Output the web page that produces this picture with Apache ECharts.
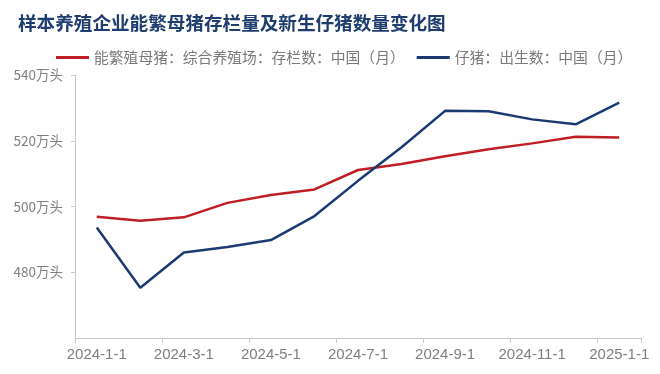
<!DOCTYPE html>
<html>
<head>
<meta charset="utf-8">
<script src="https://cdn.jsdelivr.net/npm/echarts@6/dist/echarts.min.js"></script>
<style>html,body{margin:0;padding:0;background:#fff;}#c{width:660px;height:374px;}</style>
</head>
<body>
<div id="c"></div>
<script>
const categories = ['2024-1-1','2024-2-1','2024-3-1','2024-4-1','2024-5-1','2024-6-1','2024-7-1','2024-8-1','2024-9-1','2024-10-1','2024-11-1','2024-12-1','2025-1-1'];
const sowName = '能繁殖母猪：综合养殖场：存栏数：中国（月）';
const pigletName = '仔猪：出生数：中国（月）';
const sowValues = [496.9, 495.7, 496.7, 501.1, 503.5, 505.2, 511.1, 512.9, 515.3, 517.4, 519.2, 521.2, 521.0];
const pigletValues = [493.6, 475.3, 486.0, 487.7, 489.8, 497.1, 507.8, 518.0, 529.1, 529.0, 526.5, 525.0, 531.6];
const yTicks = [460, 480, 500, 520, 540];

const chart = echarts.init(document.getElementById('c'), null, {renderer: 'canvas'});
chart.setOption({
  backgroundColor: '#ffffff',
  animation: false,
  title: {
    text: '样本养殖企业能繁母猪存栏量及新生仔猪数量变化图',
    left: 13, top: 9,
    textStyle: {fontFamily: 'Noto Sans CJK SC', fontSize: 18.6, fontWeight: 'bold', color: '#1F3D6E'}
  },
  legend: {
    left: 51, top: 45,
    itemWidth: 33, itemHeight: 3, itemGap: 12,
    icon: 'rect',
    textStyle: {fontFamily: 'Noto Sans CJK SC', fontSize: 14.8, color: '#7a7a7a'},
    data: [sowName, pigletName]
  },
  grid: {left: 75, right: 19, top: 75, bottom: 36, containLabel: false},
  xAxis: {
    type: 'category',
    data: categories,
    boundaryGap: true,
    axisLine: {lineStyle: {color: '#c8c8c8', width: 1}},
    axisTick: {show: true, length: 5, lineStyle: {color: '#c8c8c8'}},
    axisLabel: {interval: 1, margin: 9, fontFamily: 'Liberation Sans', fontSize: 15, color: '#7f7f7f'}
  },
  yAxis: {
    type: 'value',
    min: yTicks[0], max: yTicks[yTicks.length - 1], interval: 20,
    axisLine: {show: true, lineStyle: {color: '#c8c8c8', width: 1}},
    axisTick: {show: true, length: 4, lineStyle: {color: '#c8c8c8'}},
    splitLine: {show: false},
    axisLabel: {
      showMinLabel: false, margin: 12,
      fontFamily: 'Noto Sans CJK SC', fontSize: 13.5, color: '#7f7f7f',
      formatter: v => v === yTicks[0] ? '' : v + '万头'
    }
  },
  series: [
    {name: sowName, type: 'line', data: sowValues, symbol: 'none', lineStyle: {width: 2.5, color: '#BE1E24'}, itemStyle: {color: '#BE1E24'}},
    {name: pigletName, type: 'line', data: pigletValues, symbol: 'none', lineStyle: {width: 2.5, color: '#1B3A72'}, itemStyle: {color: '#1B3A72'}}
  ]
});
</script>
</body>
</html>
